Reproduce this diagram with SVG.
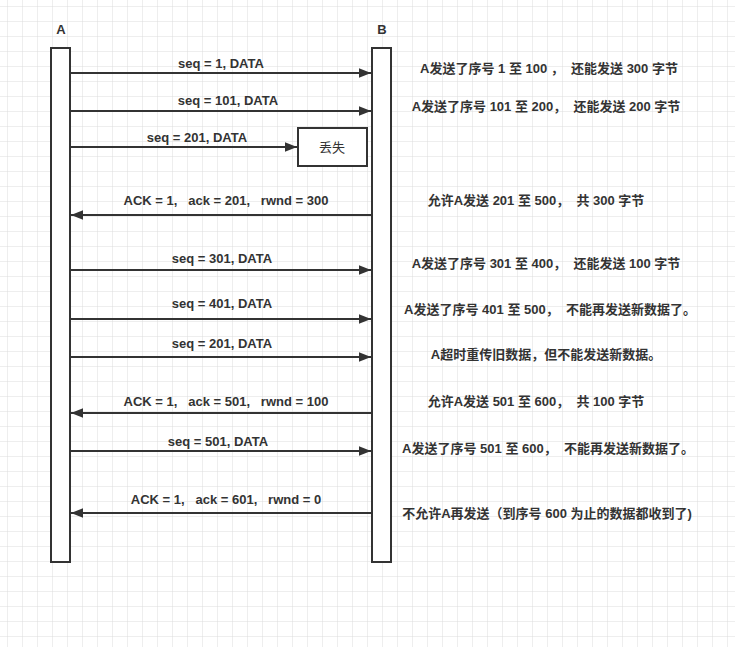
<svg xmlns="http://www.w3.org/2000/svg" width="735" height="647" viewBox="0 0 735 647">
<defs>
<pattern id="g" x="8" y="7" width="15" height="15" patternUnits="userSpaceOnUse"><path d="M15 0V15M0 15H15" fill="none" stroke="#dcdcdc" stroke-width="1"/></pattern>
<marker id="ah" viewBox="0 0 10 10" refX="10" refY="5" markerWidth="12" markerHeight="12" markerUnits="userSpaceOnUse" orient="auto"><path d="M0 1L10 5L0 9Z" fill="#333"/></marker>
<style>
text{font-family:"Liberation Sans","Noto Sans CJK SC",sans-serif;font-size:13px;font-weight:bold;fill:#333;text-anchor:middle;white-space:pre}
.n{font-weight:normal}
.l{fill:#fff;stroke:#333;stroke-width:2}
.c line{stroke:#333;stroke-width:2;marker-end:url(#ah)}
</style>
</defs>
<rect width="735" height="647" fill="#fff"/>
<rect width="735" height="647" fill="url(#g)"/>
<g id="A"><text x="61" y="34">A</text><rect class="l" x="51" y="48" width="19" height="514"/></g>
<g id="B"><text x="382" y="34">B</text><rect class="l" x="372" y="48" width="19" height="514"/></g>
<g id="lost"><rect class="l" x="298" y="128" width="69" height="38"/><text class="n" x="332" y="152">丢失</text></g>
<g class="c">
<line x1="70" y1="73" x2="371" y2="73"/>
<line x1="70" y1="111" x2="371" y2="111"/>
<line x1="70" y1="147" x2="297" y2="147"/>
<line x1="372" y1="215" x2="71" y2="215"/>
<line x1="70" y1="270" x2="371" y2="270"/>
<line x1="70" y1="319" x2="371" y2="319"/>
<line x1="70" y1="357" x2="371" y2="357"/>
<line x1="372" y1="413" x2="71" y2="413"/>
<line x1="70" y1="451" x2="371" y2="451"/>
<line x1="372" y1="513" x2="71" y2="513"/>
</g>
<g id="labels" xml:space="preserve">
<text x="221" y="68">seq = 1, DATA</text>
<text x="228" y="105">seq = 101, DATA</text>
<text x="197" y="142">seq = 201, DATA</text>
<text x="226" y="205">ACK = 1,   ack = 201,   rwnd = 300</text>
<text x="222" y="263">seq = 301, DATA</text>
<text x="222" y="308">seq = 401, DATA</text>
<text x="222" y="348">seq = 201, DATA</text>
<text x="226" y="406">ACK = 1,   ack = 501,   rwnd = 100</text>
<text x="218" y="446">seq = 501, DATA</text>
<text x="226" y="504">ACK = 1,   ack = 601,   rwnd = 0</text>
</g>
<g id="notes" xml:space="preserve">
<text x="549" y="73">A发送了序号 1 至 100 ，  还能发送 300 字节</text>
<text x="546" y="111">A发送了序号 101 至 200，  还能发送 200 字节</text>
<text x="536" y="205">允许A发送 201 至 500，  共 300 字节</text>
<text x="546" y="268">A发送了序号 301 至 400，  还能发送 100 字节</text>
<text x="550" y="314">A发送了序号 401 至 500，  不能再发送新数据了。</text>
<text x="546" y="359">A超时重传旧数据，但不能发送新数据。</text>
<text x="536" y="406">允许A发送 501 至 600，  共 100 字节</text>
<text x="548" y="453">A发送了序号 501 至 600，  不能再发送新数据了。</text>
<text x="547" y="518">不允许A再发送（到序号 600 为止的数据都收到了)</text>
</g>
</svg>
